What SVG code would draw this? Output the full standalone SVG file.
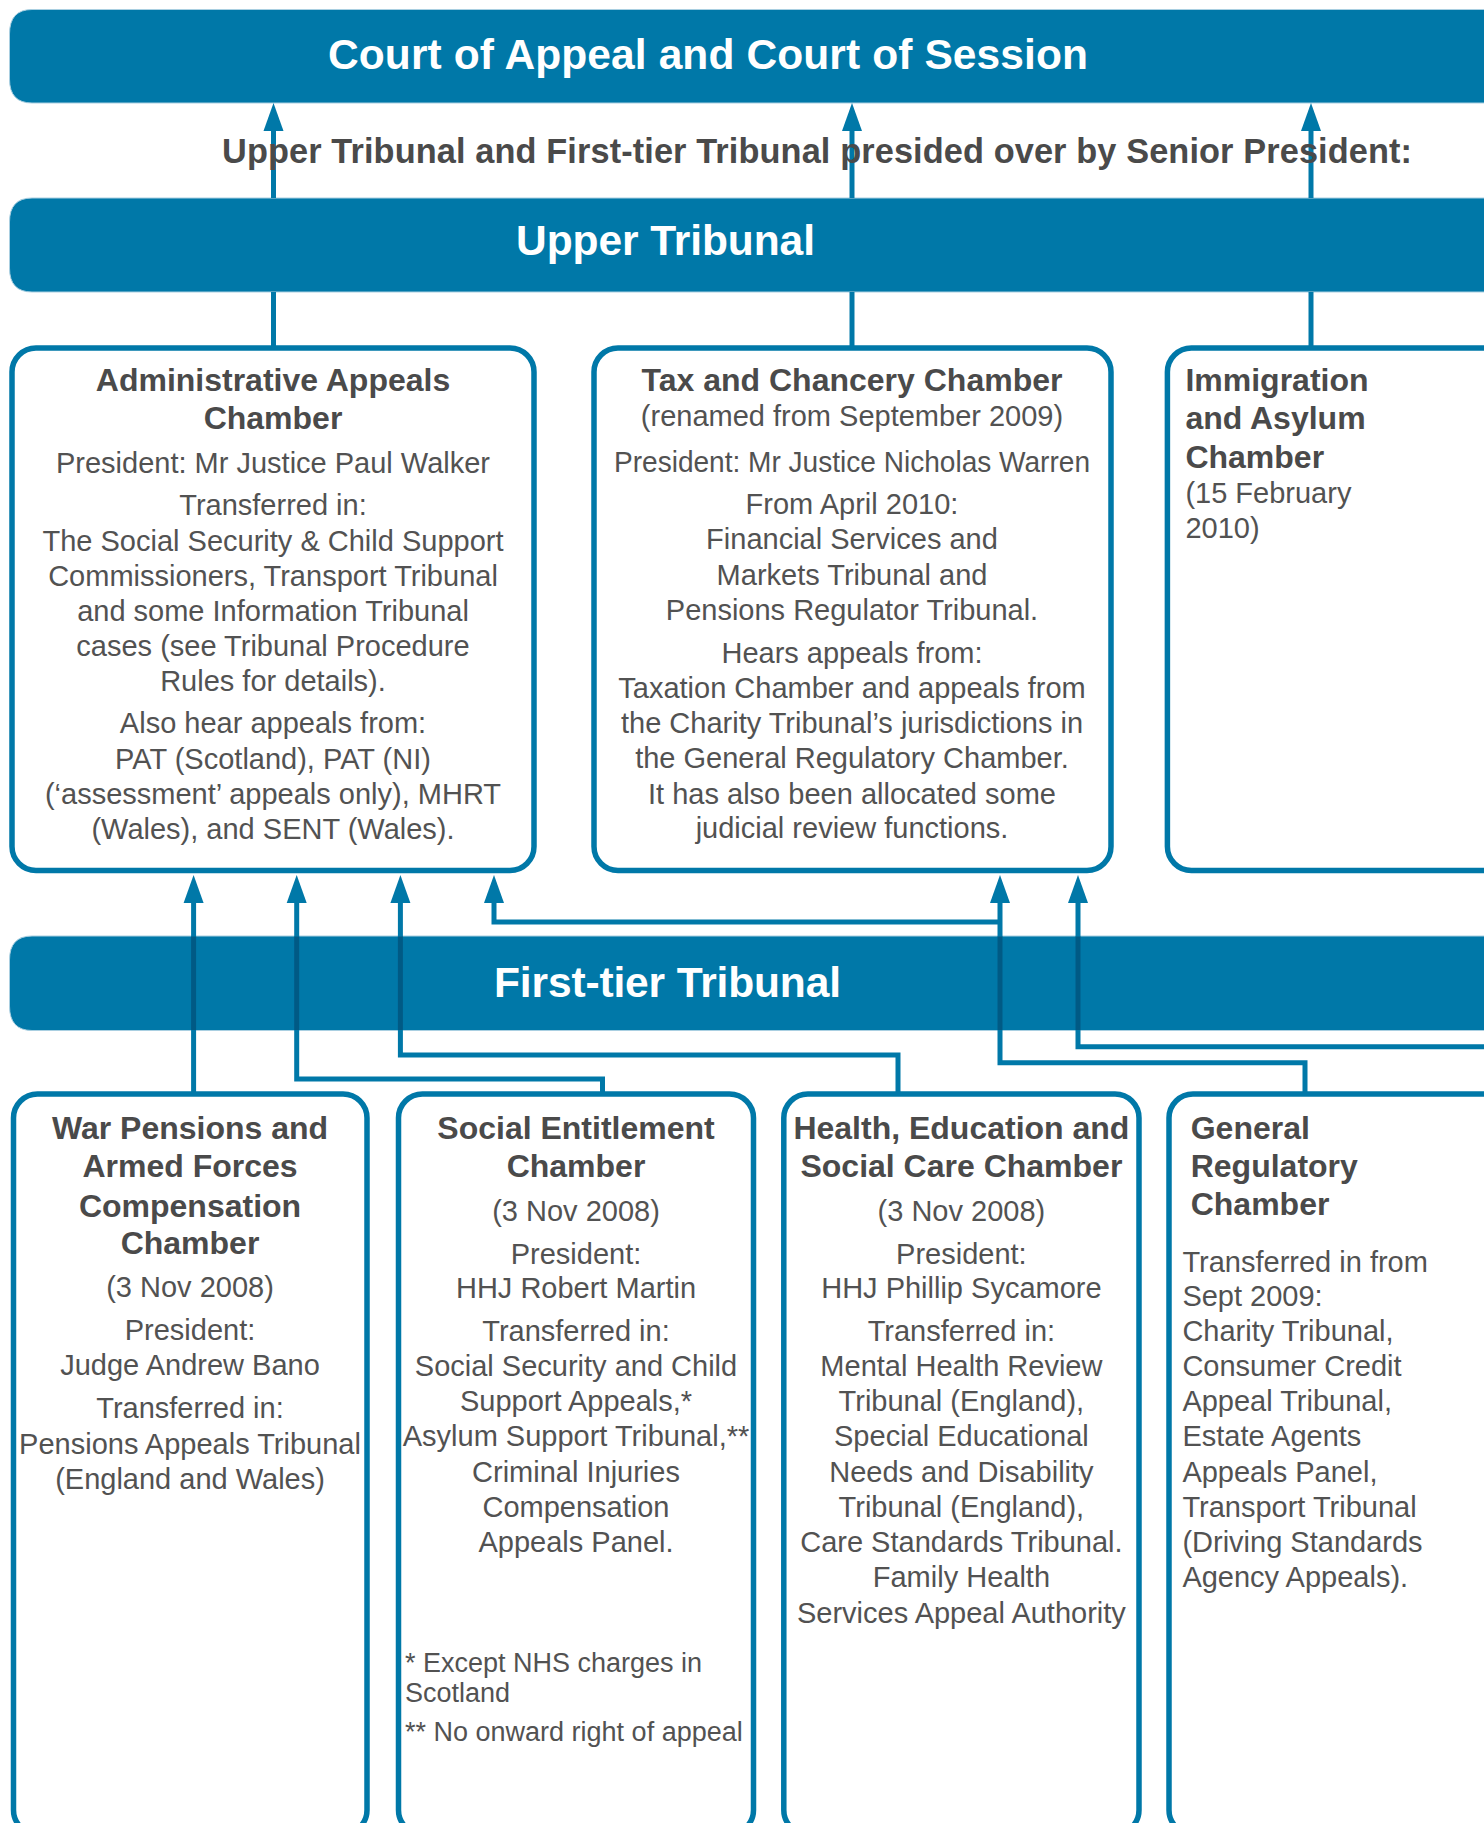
<svg xmlns="http://www.w3.org/2000/svg" width="1484" height="1823" viewBox="0 0 1484 1823">
<defs>
<style>
.bar{fill:#0078a8;stroke:#a9cfe1;stroke-width:1}
.bt{font-family:"Liberation Sans",Arial,sans-serif;font-weight:bold;font-size:42.5px;fill:#ffffff}
.box{fill:#ffffff;stroke:#0078a8;stroke-width:5.5}
.h{font-family:"Liberation Sans",Arial,sans-serif;font-weight:bold;font-size:32px;fill:#4a4a4a}
.b{font-family:"Liberation Sans",Arial,sans-serif;font-size:29px;fill:#525252}
.fn{font-family:"Liberation Sans",Arial,sans-serif;font-size:27px;fill:#525252}
.sub{font-family:"Liberation Sans",Arial,sans-serif;font-weight:bold;font-size:34.3px;fill:#4a4a4a}
.c{text-anchor:middle}
.conn{fill:none;stroke:#0078a8;stroke-width:5}
.dark{fill:none;stroke:#005a85;stroke-width:5}
</style>
<marker id="arr" markerUnits="userSpaceOnUse" markerWidth="28" markerHeight="20" refX="0" refY="10" orient="auto" overflow="visible">
<path d="M0,0 L28,10 L0,20 z" fill="#0078a8"/>
</marker>
</defs>

<g id="court-of-appeal">
<path class="bar" d="M1600,9.5 H32 Q9.5,9.5 9.5,34 V79 Q9.5,103 32,103 H1600 z"/>
<text class="bt" x="328" y="69" textLength="760" lengthAdjust="spacing">Court of Appeal and Court of Session</text>
</g>

<g id="upper-tribunal">
<path class="bar" d="M1600,198 H32 Q9.5,198 9.5,222 V268 Q9.5,292 32,292 H1600 z"/>
<text class="bt" x="516" y="255" textLength="299" lengthAdjust="spacing">Upper Tribunal</text>
</g>

<g id="first-tier-tribunal">
<path class="bar" d="M1600,936 H32 Q9.5,936 9.5,960 V1006 Q9.5,1030.5 32,1030.5 H1600 z"/>
<text class="bt" x="494" y="997" textLength="347" lengthAdjust="spacing">First-tier Tribunal</text>
</g>

<g id="connectors">
<path class="conn" d="M273.5,198 V131" marker-end="url(#arr)"/>
<path class="conn" d="M852,198 V131" marker-end="url(#arr)"/>
<path class="conn" d="M1311,198 V131" marker-end="url(#arr)"/>
<path class="conn" d="M273.5,292 V348"/>
<path class="conn" d="M852,292 V348"/>
<path class="conn" d="M1311,292 V348"/>
<path class="conn" d="M193.6,1094 V903" marker-end="url(#arr)"/>
<path class="conn" d="M602.5,1094 V1079 H296.7 V903" marker-end="url(#arr)"/>
<path class="conn" d="M898,1094 V1055 H400.4 V903" marker-end="url(#arr)"/>
<path class="conn" d="M1305,1094 V1062.7 H1000 V903" marker-end="url(#arr)"/>
<path class="conn" d="M1000,922 H494 V903" marker-end="url(#arr)"/>
<path class="conn" d="M1490,1046.7 H1078 V903" marker-end="url(#arr)"/>
<path class="dark" d="M193.6,936.5 V1030 M296.7,936.5 V1030 M400.4,936.5 V1030 M1000,936.5 V1030 M1078,936.5 V1030"/>
</g>

<text class="sub" x="222" y="163" textLength="1190" lengthAdjust="spacing">Upper Tribunal and First-tier Tribunal presided over by Senior President:</text>

<g id="administrative-appeals-chamber">
<rect class="box" x="12" y="348" width="522" height="522.5" rx="24" ry="24"/>
<text class="h c" x="273"><tspan x="273" y="391">Administrative Appeals</tspan><tspan x="273" y="429.3">Chamber</tspan></text>
<text class="b c" x="273"><tspan x="273" y="473">President: Mr Justice Paul Walker</tspan><tspan x="273" y="515">Transferred in:</tspan><tspan x="273" y="550.5">The Social Security &amp; Child Support</tspan><tspan x="273" y="585.7">Commissioners, Transport Tribunal</tspan><tspan x="273" y="621">and some Information Tribunal</tspan><tspan x="273" y="656">cases (see Tribunal Procedure</tspan><tspan x="273" y="691">Rules for details).</tspan><tspan x="273" y="733">Also hear appeals from:</tspan><tspan x="273" y="768.5">PAT (Scotland), PAT (NI)</tspan><tspan x="273" y="804">(‘assessment’ appeals only), MHRT</tspan><tspan x="273" y="839">(Wales), and SENT (Wales).</tspan></text>
</g>

<g id="tax-and-chancery-chamber">
<rect class="box" x="594" y="348" width="517" height="522.5" rx="24" ry="24"/>
<text class="h c" x="852" y="391">Tax and Chancery Chamber</text>
<text class="b c" x="852"><tspan x="852" y="425.7">(renamed from September 2009)</tspan></text>
<text class="b c" x="852" y="472" textLength="476" lengthAdjust="spacingAndGlyphs">President: Mr Justice Nicholas Warren</text>
<text class="b c" x="852"><tspan x="852" y="514">From April 2010:</tspan><tspan x="852" y="549">Financial Services and</tspan><tspan x="852" y="584.6">Markets Tribunal and</tspan><tspan x="852" y="620">Pensions Regulator Tribunal.</tspan><tspan x="852" y="662.5">Hears appeals from:</tspan><tspan x="852" y="698">Taxation Chamber and appeals from</tspan><tspan x="852" y="733">the Charity Tribunal’s jurisdictions in</tspan><tspan x="852" y="768">the General Regulatory Chamber.</tspan><tspan x="852" y="803.6">It has also been allocated some</tspan><tspan x="852" y="838">judicial review functions.</tspan></text>
</g>

<g id="immigration-and-asylum-chamber">
<rect class="box" x="1167.4" y="348" width="420" height="522.5" rx="24" ry="24"/>
<text class="h"><tspan x="1185.4" y="391">Immigration</tspan><tspan x="1185.4" y="429.3">and Asylum</tspan><tspan x="1185.4" y="467.5">Chamber</tspan></text>
<text class="b"><tspan x="1185.4" y="502.5">(15 February</tspan><tspan x="1185.4" y="538">2010)</tspan></text>
</g>

<g id="war-pensions-chamber">
<rect class="box" x="13.5" y="1094" width="353.5" height="740" rx="24" ry="24"/>
<text class="h c"><tspan x="190" y="1139.2">War Pensions and</tspan><tspan x="190" y="1177">Armed Forces</tspan><tspan x="190" y="1216.6">Compensation</tspan><tspan x="190" y="1253.5">Chamber</tspan></text>
<text class="b c"><tspan x="190" y="1297.3">(3 Nov 2008)</tspan><tspan x="190" y="1339.7">President:</tspan><tspan x="190" y="1375.2">Judge Andrew Bano</tspan><tspan x="190" y="1418">Transferred in:</tspan><tspan x="190" y="1453.6">Pensions Appeals Tribunal</tspan><tspan x="190" y="1488.7">(England and Wales)</tspan></text>
</g>

<g id="social-entitlement-chamber">
<rect class="box" x="398.5" y="1094" width="355" height="740" rx="24" ry="24"/>
<text class="h c"><tspan x="576" y="1139.2">Social Entitlement</tspan><tspan x="576" y="1177">Chamber</tspan></text>
<text class="b c"><tspan x="576" y="1220.8">(3 Nov 2008)</tspan><tspan x="576" y="1263.7">President:</tspan><tspan x="576" y="1298.2">HHJ Robert Martin</tspan><tspan x="576" y="1340.7">Transferred in:</tspan><tspan x="576" y="1375.7">Social Security and Child</tspan><tspan x="576" y="1411.2">Support Appeals,*</tspan><tspan x="576" y="1445.8">Asylum Support Tribunal,**</tspan><tspan x="576" y="1481.7">Criminal Injuries</tspan><tspan x="576" y="1517.2">Compensation</tspan><tspan x="576" y="1551.8">Appeals Panel.</tspan></text>
<text class="fn"><tspan x="405" y="1671.7">* Except NHS charges in</tspan><tspan x="405" y="1701.7">Scotland</tspan><tspan x="405" y="1740.8">** No onward right of appeal</tspan></text>
</g>

<g id="health-education-social-care-chamber">
<rect class="box" x="783.8" y="1094" width="355.2" height="740" rx="24" ry="24"/>
<text class="h c"><tspan x="961.4" y="1139.2">Health, Education and</tspan><tspan x="961.4" y="1177">Social Care Chamber</tspan></text>
<text class="b c"><tspan x="961.4" y="1220.8">(3 Nov 2008)</tspan><tspan x="961.4" y="1263.7">President:</tspan><tspan x="961.4" y="1298.2">HHJ Phillip Sycamore</tspan><tspan x="961.4" y="1340.7">Transferred in:</tspan><tspan x="961.4" y="1375.7">Mental Health Review</tspan><tspan x="961.4" y="1411.2">Tribunal (England),</tspan><tspan x="961.4" y="1445.8">Special Educational</tspan><tspan x="961.4" y="1481.7">Needs and Disability</tspan><tspan x="961.4" y="1517.2">Tribunal (England),</tspan><tspan x="961.4" y="1551.8">Care Standards Tribunal.</tspan><tspan x="961.4" y="1587.3">Family Health</tspan><tspan x="961.4" y="1623.3">Services Appeal Authority</tspan></text>
</g>

<g id="general-regulatory-chamber">
<rect class="box" x="1169" y="1094" width="420" height="740" rx="24" ry="24"/>
<text class="h"><tspan x="1190.7" y="1139.2">General</tspan><tspan x="1190.7" y="1177">Regulatory</tspan><tspan x="1190.7" y="1215.3">Chamber</tspan></text>
<text class="b"><tspan x="1182.4" y="1271.5">Transferred in from</tspan><tspan x="1182.4" y="1306">Sept 2009:</tspan><tspan x="1182.4" y="1340.7">Charity Tribunal,</tspan><tspan x="1182.4" y="1375.7">Consumer Credit</tspan><tspan x="1182.4" y="1411.2">Appeal Tribunal,</tspan><tspan x="1182.4" y="1445.8">Estate Agents</tspan><tspan x="1182.4" y="1481.7">Appeals Panel,</tspan><tspan x="1182.4" y="1517.2">Transport Tribunal</tspan><tspan x="1182.4" y="1551.8">(Driving Standards</tspan><tspan x="1182.4" y="1587.3">Agency Appeals).</tspan></text>
</g>
</svg>
